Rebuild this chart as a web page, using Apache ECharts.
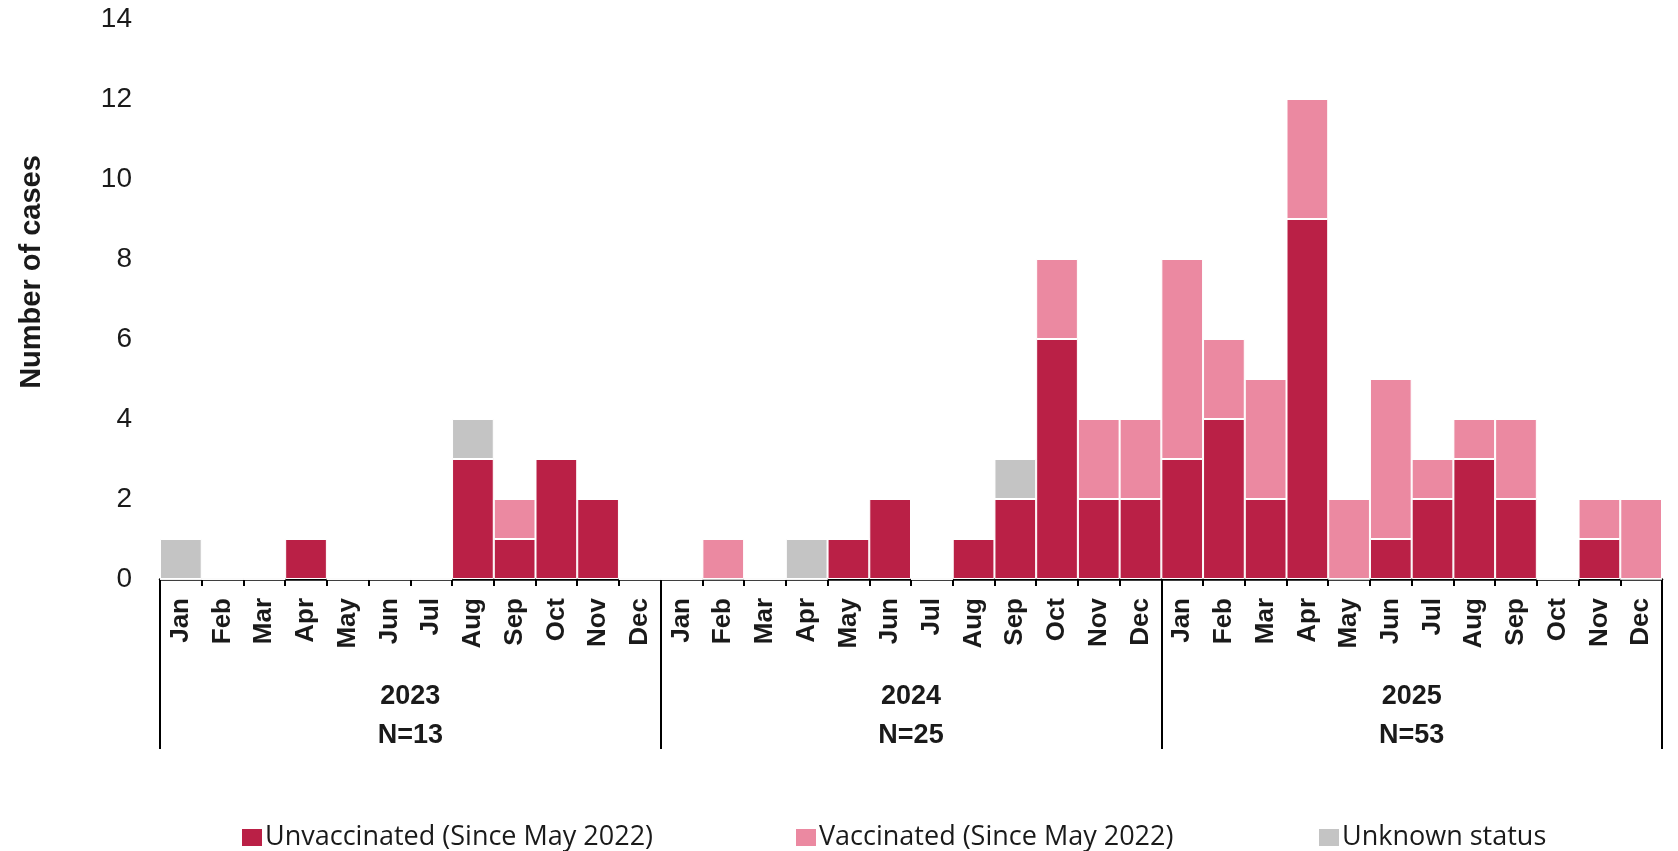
<!DOCTYPE html>
<html>
<head>
<meta charset="utf-8">
<script src="https://cdn.jsdelivr.net/npm/echarts@6/dist/echarts.min.js"></script>
<style>
  html, body { margin: 0; padding: 0; background: #fff; }
  #chart { width: 1678px; height: 851px; }
</style>
</head>
<body>
<div id="chart"></div>
<script>
// months for 2023, 2024, 2025
const monthNames = ['Jan', 'Feb', 'Mar', 'Apr', 'May', 'Jun', 'Jul', 'Aug', 'Sep', 'Oct', 'Nov', 'Dec'];
const years = ['2023', '2024', '2025'];
const yearTotals = ['N=13', 'N=25', 'N=53'];

const unvaccinated = [
  0, 0, 0, 1, 0, 0, 0, 3, 1, 3, 2, 0,
  0, 0, 0, 0, 1, 2, 0, 1, 2, 6, 2, 2,
  3, 4, 2, 9, 0, 1, 2, 3, 2, 0, 1, 0
];
const vaccinated = [
  0, 0, 0, 0, 0, 0, 0, 0, 1, 0, 0, 0,
  0, 1, 0, 0, 0, 0, 0, 0, 0, 2, 2, 2,
  5, 2, 3, 3, 2, 4, 1, 1, 2, 0, 1, 2
];
const unknown = [
  1, 0, 0, 0, 0, 0, 0, 1, 0, 0, 0, 0,
  0, 0, 0, 1, 0, 0, 0, 0, 1, 0, 0, 0,
  0, 0, 0, 0, 0, 0, 0, 0, 0, 0, 0, 0
];

const seriesNames = ['Unvaccinated (Since May 2022)', 'Vaccinated (Since May 2022)', 'Unknown status'];
const seriesColors = ['#BA2046', '#EB89A1', '#C4C4C4'];

// category keys must be unique, so prefix with the year
const months = [];
years.forEach((y) => {
  monthNames.forEach((m) => months.push(y + '-' + m));
});

const chart = echarts.init(document.getElementById('chart'));

const makeBar = (name, data, color) => ({
  name: name,
  type: 'bar',
  stack: 'cases',
  xAxisIndex: 0,
  data: data,
  barCategoryGap: 0,
  itemStyle: {
    color: color,
    borderColor: '#fff',
    borderWidth: 1
  },
  emphasis: { disabled: true }
});

const legendBase = {
  top: 824,
  padding: 0,
  itemWidth: 22,
  itemHeight: 19,
  icon: 'rect',
  textStyle: {
    fontFamily: 'Open Sans',
    fontSize: 27,
    color: '#1a1a1a',
    padding: [0, 0, 0, -3]
  }
};

chart.setOption({
  animation: false,
  grid: {
    left: 160,
    right: 16,
    top: 19,
    bottom: 272,
    containLabel: false
  },
  legend: [
    Object.assign({}, legendBase, { left: 240, data: [seriesNames[0]] }),
    Object.assign({}, legendBase, { left: 794, data: [seriesNames[1]] }),
    Object.assign({}, legendBase, { left: 1317, data: [seriesNames[2]] })
  ],
  graphic: [{
    type: 'text',
    x: 32,
    y: 272,
    rotation: Math.PI / 2,
    style: {
      text: 'Number of cases',
      fontFamily: 'Liberation Sans',
      fontWeight: 'bold',
      fontSize: 29,
      fill: '#1a1a1a',
      align: 'center',
      verticalAlign: 'middle'
    }
  }],
  xAxis: [
    {
      type: 'category',
      data: months,
      position: 'bottom',
      axisLine: { show: true, lineStyle: { color: '#000', width: 2.5 } },
      axisTick: { show: true, interval: 0, length: 7, lineStyle: { color: '#000', width: 2 } },
      axisLabel: {
        interval: 0,
        rotate: 90,
        margin: 19,
        fontFamily: 'Liberation Sans',
        fontWeight: 'bold',
        fontSize: 26,
        color: '#1a1a1a',
        formatter: (v) => v.split('-')[1]
      }
    },
    {
      type: 'category',
      data: years,
      position: 'bottom',
      axisLine: { show: false },
      axisTick: { show: true, interval: 0, length: 170, lineStyle: { color: '#000', width: 2 } },
      axisLabel: {
        interval: 0,
        margin: 98,
        fontFamily: 'Liberation Sans',
        fontWeight: 'bold',
        fontSize: 27,
        lineHeight: 39,
        color: '#1a1a1a',
        formatter: (v, i) => v + '\n' + yearTotals[i]
      }
    }
  ],
  yAxis: {
    type: 'value',
    min: 0,
    max: 14,
    interval: 2,
    axisLine: { show: false },
    axisTick: { show: false },
    splitLine: { show: false },
    axisLabel: {
      margin: 28,
      fontFamily: 'Liberation Sans',
      fontSize: 28,
      color: '#1a1a1a'
    }
  },
  series: [
    makeBar(seriesNames[0], unvaccinated, seriesColors[0]),
    makeBar(seriesNames[1], vaccinated, seriesColors[1]),
    makeBar(seriesNames[2], unknown, seriesColors[2])
  ]
});
</script>
</body>
</html>
